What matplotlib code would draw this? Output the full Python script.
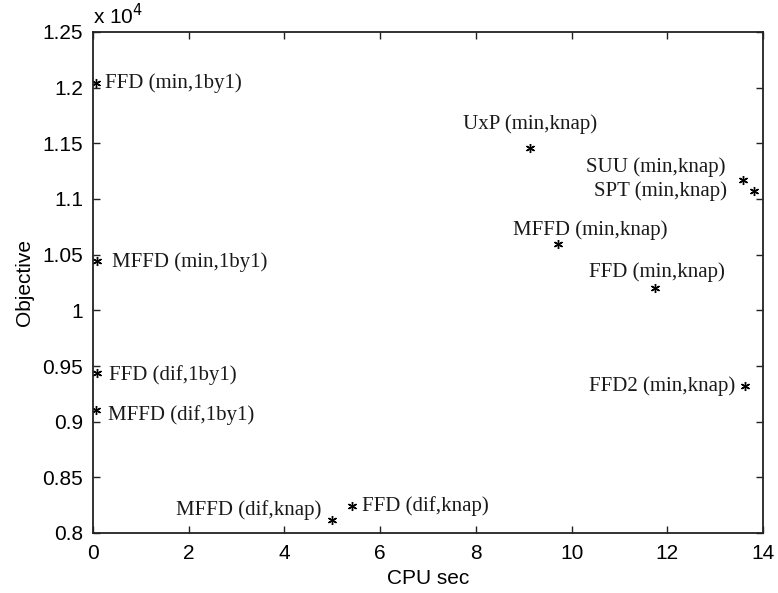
import matplotlib
matplotlib.use("Agg")
import matplotlib.pyplot as plt
import numpy as np

# ---- data ----
labels = ["FFD (min,1by1)", "MFFD (min,1by1)", "FFD (dif,1by1)", "MFFD (dif,1by1)",
          "UxP (min,knap)", "SUU (min,knap)", "SPT (min,knap)", "MFFD (min,knap)",
          "FFD (min,knap)", "FFD2 (min,knap)", "MFFD (dif,knap)", "FFD (dif,knap)"]
cpu_sec = [0.06, 0.08, 0.08, 0.06, 9.13, 13.58, 13.81, 9.72, 11.74, 13.62, 4.99, 5.41]
objective = [12043, 10440, 9438, 9105, 11460, 11170, 11070, 10597, 10200, 9320, 8117, 8243]

xticks = [0, 2, 4, 6, 8, 10, 12, 14]
yticks = [0.8, 0.85, 0.9, 0.95, 1.0, 1.05, 1.1, 1.15, 1.2, 1.25]
ytick_labels = ["0.8", "0.85", "0.9", "0.95", "1", "1.05", "1.1", "1.15", "1.2", "1.25"]

# label placement (pixel offsets, horizontal alignment)
offsets = [(9, 0), (15, -1), (12, -2), (12, -5), (0, 24), (-17, 13), (-27, 0),
           (-45, 14), (2, 16), (-10, 0), (-10, 10), (10, 0)]
aligns = ["left", "left", "left", "left", "center", "right", "right",
          "left", "center", "right", "right", "left"]

scale = 1e4

fig = plt.figure(figsize=(7.78, 5.93), dpi=100)
ax = fig.add_axes([93/778, 60/593, 670/778, 501/593])

y = np.array(objective) / scale
ax.plot(cpu_sec, y, linestyle="none", marker=(6, 2, 0), markersize=6.5,
        markeredgewidth=1.0, color="black")

for xi, yi, lab, off, ha in zip(cpu_sec, y, labels, offsets, aligns):
    ax.annotate(lab, (xi, yi), xytext=off, textcoords="offset pixels",
                ha=ha, va="center", fontsize=15, family="Liberation Serif",
                color="#1a1a1a")

ax.set_xlim(0, 14)
ax.set_ylim(0.8, 1.25)
ax.set_xticks(xticks)
ax.set_xticklabels([str(t) for t in xticks])
ax.set_yticks(yticks)
ax.set_yticklabels(ytick_labels)

for lbl in ax.get_xticklabels() + ax.get_yticklabels():
    lbl.set_family("Liberation Sans")
    lbl.set_fontsize(15)

ax.tick_params(direction="in", length=5, width=1.0, top=True, right=True,
               color="#222222")
ax.tick_params(axis="y", pad=7)
ax.tick_params(axis="x", pad=8)
for s in ax.spines.values():
    s.set_linewidth(1.3)
    s.set_color("#222222")

ax.set_xlabel("CPU sec", fontsize=15, family="Liberation Sans", labelpad=4)
ax.set_ylabel("Objective", fontsize=15, family="Liberation Sans", labelpad=6)

ax.text(0.0, 1.008, r"x 10$^{4}$", transform=ax.transAxes, ha="left", va="bottom",
        fontsize=15, family="Liberation Sans")

fig.savefig("out.png", dpi=100)
